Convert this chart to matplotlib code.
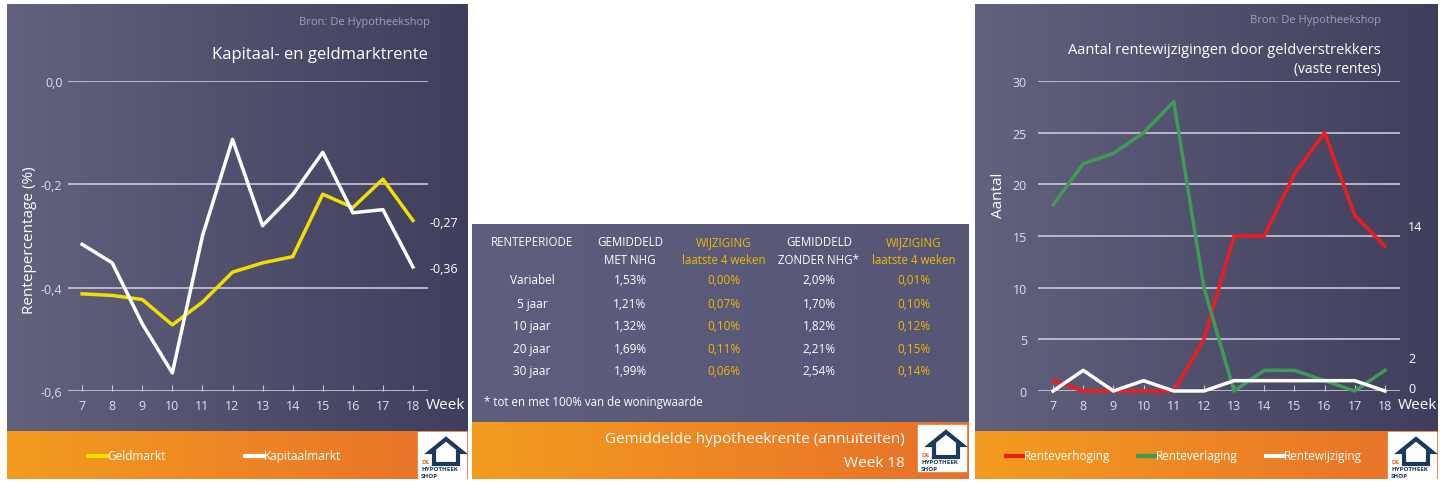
import matplotlib
matplotlib.use("Agg")
import matplotlib.pyplot as plt
import numpy as np
from matplotlib.patches import Rectangle, Polygon

plt.rcParams['font.family'] = ['Open Sans', 'DejaVu Sans']

weeks = [7, 8, 9, 10, 11, 12, 13, 14, 15, 16, 17, 18]
geldmarkt = [-0.412, -0.415, -0.423, -0.472, -0.428, -0.370, -0.352, -0.340, -0.219, -0.245, -0.190, -0.270]
kapitaalmarkt = [-0.316, -0.352, -0.470, -0.565, -0.300, -0.113, -0.280, -0.220, -0.138, -0.255, -0.249, -0.360]
renteverhoging = [1, 0, 0, 0, 0, 5, 15, 15, 21, 25, 17, 14]
renteverlaging = [18, 22, 23, 25, 28, 10, 0, 2, 2, 1, 0, 2]
rentewijziging = [0, 2, 0, 1, 0, 0, 1, 1, 1, 1, 1, 0]

tab_header1 = ["RENTEPERIODE", "GEMIDDELD", "WIJZIGING", "GEMIDDELD", "WIJZIGING"]
tab_header2 = ["", "MET NHG", "laatste 4 weken", "ZONDER NHG*", "laatste 4 weken"]
tab_periods = ["Variabel", "5 jaar", "10 jaar", "20 jaar", "30 jaar"]
tab_met = ["1,53%", "1,21%", "1,32%", "1,69%", "1,99%"]
tab_met_w = ["0,00%", "0,07%", "0,10%", "0,11%", "0,06%"]
tab_zonder = ["2,09%", "1,70%", "1,82%", "2,21%", "2,54%"]
tab_zonder_w = ["0,01%", "0,10%", "0,12%", "0,15%", "0,14%"]

W, H = 1440, 485
fig = plt.figure(figsize=(14.4, 4.85), dpi=100)
fig.patch.set_facecolor('white')

def fa(x0, y0, x1, y1, z=0):
    return fig.add_axes([x0 / W, 1 - y1 / H, (x1 - x0) / W, (y1 - y0) / H], zorder=z)

def grad(ax, c0, c1):
    g = np.linspace(0, 1, 256)[None, :, None]
    c0 = np.array(matplotlib.colors.to_rgb(c0)); c1 = np.array(matplotlib.colors.to_rgb(c1))
    img = c0 * (1 - g) + c1 * g
    ax.imshow(img, aspect='auto', extent=[0, 1, 0, 1])
    ax.set_xlim(0, 1); ax.set_ylim(0, 1); ax.axis('off')

panels = [(7, 5, 468, 480, 432, '#62627f', '#3f3f5d'), (975, 5, 1437, 480, 432, '#62627f', '#3f3f5d'),
          (472, 225, 968, 480, 423, '#5e5e7e', '#555575')]
for (x0, y0, x1, y1, yo, c0, c1) in panels:
    grad(fa(x0, y0, x1, yo), c0, c1)
    grad(fa(x0, yo, x1, y1), '#f39c1f', '#e8702a')

ov = fa(0, 0, W, H, z=5)
ov.set_xlim(0, W); ov.set_ylim(H, 0); ov.axis('off'); ov.patch.set_alpha(0)

def logo(x0, y0):
    ov.add_patch(Rectangle((x0, y0), 48, 46, color='white'))
    ov.add_patch(Polygon([[x0 + 12, y0 + 20], [x0 + 28, y0 + 7], [x0 + 44, y0 + 20],
                          [x0 + 40, y0 + 20], [x0 + 40, y0 + 32], [x0 + 16, y0 + 32], [x0 + 16, y0 + 20]],
                         closed=True, fill=False, ec='#1d3a5c', lw=3))
    ov.text(x0 + 3, y0 + 31, "DE", fontsize=4.5, color='#e8702a', fontweight='bold')
    ov.text(x0 + 3, y0 + 38, "HYPOTHEEK", fontsize=4.5, color='#1d3a5c', fontweight='bold')
    ov.text(x0 + 3, y0 + 45, "SHOP", fontsize=4.5, color='#1d3a5c', fontweight='bold')

logo(418, 433); logo(1388, 433); logo(918, 426)

txt = '#ffffff'
yel = '#f5b800'
# left texts
ov.text(430, 22, "Bron: De Hypotheekshop", fontsize=8, color='#a0a0b8', ha='right', va='center')
ov.text(428, 55, "Kapitaal- en geldmarktrente", fontsize=12, color=txt, ha='right', va='center')
ov.text(30, 240, "Rentepercentage (%)", fontsize=11, color=txt, rotation=90, ha='center', va='center')
ov.text(426, 406, "Week", fontsize=11, color=txt, ha='left', va='center')
ov.text(430, 224, "-0,27", fontsize=9, color=txt, ha='left', va='center')
ov.text(430, 270, "-0,36", fontsize=9, color=txt, ha='left', va='center')
for lx, lab, c in [(88, "Geldmarkt", '#f0e000'), (245, "Kapitaalmarkt", 'white')]:
    ov.plot([lx, lx + 19], [457, 457], color=c, lw=3)
    ov.text(lx + 19, 457, lab, fontsize=8.5, color=txt, va='center')

# right texts
ov.text(1381, 20, "Bron: De Hypotheekshop", fontsize=8, color='#a0a0b8', ha='right', va='center')
ov.text(1381, 50, "Aantal rentewijzigingen door geldverstrekkers", fontsize=10.5, color=txt, ha='right', va='center')
ov.text(1381, 70, "(vaste rentes)", fontsize=10, color=txt, ha='right', va='center')
ov.text(998, 195, "Aantal", fontsize=11, color=txt, rotation=90, ha='center', va='center')
ov.text(1398, 406, "Week", fontsize=11, color=txt, ha='left', va='center')
for yy, lab in [(228, "14"), (360, "2"), (390, "0")]:
    ov.text(1408, yy, lab, fontsize=9, color=txt, ha='left', va='center')
for lx, lab, c in [(1006, "Renteverhoging", '#ee1c1c'), (1138, "Renteverlaging", '#3f9b55'), (1266, "Rentewijziging", 'white')]:
    ov.plot([lx, lx + 18], [457, 457], color=c, lw=3)
    ov.text(lx + 18, 457, lab, fontsize=8.5, color=txt, va='center')

# table
cols = [532, 630, 724, 819, 914]
for i, cx in enumerate(cols):
    c = yel if i in (2, 4) else txt
    ov.text(cx, 243, tab_header1[i], fontsize=8.3, color=c, ha='center', va='center')
    ov.text(cx, 261, tab_header2[i], fontsize=8.3, color=c, ha='center', va='center')
rows_y = [281, 305, 327, 350, 372]
for j, ry in enumerate(rows_y):
    vals = [tab_periods[j], tab_met[j], tab_met_w[j], tab_zonder[j], tab_zonder_w[j]]
    for i, cx in enumerate(cols):
        c = yel if i in (2, 4) else txt
        ov.text(cx, ry, vals[i], fontsize=8.5, color=c, ha='center', va='center')
ov.text(484, 403, "* tot en met 100% van de woningwaarde", fontsize=8.3, color=txt, va='center')
ov.text(905, 440, "Gemiddelde hypotheekrente (annuïteiten)", fontsize=11, color=txt, ha='right', va='center')
ov.text(905, 464, "Week 18", fontsize=11, color=txt, ha='right', va='center')

def style(ax, yt, ylabels):
    ax.patch.set_alpha(0)
    for s in ax.spines.values():
        s.set_visible(False)
    ax.set_yticks(yt); ax.set_yticklabels(ylabels)
    ax.set_xticks(weeks)
    ax.grid(axis='y', color='#c8c8d4', lw=1.2)
    ax.set_axisbelow(True)
    ax.tick_params(colors='#e0e0ea', labelsize=9, length=0, pad=8)
    ax.tick_params(axis='x', length=4, color='#c8c8d4', direction='in', pad=6)

a1 = fa(68, 82, 428, 392, z=3)
a1.set_xlim(6.53, 18.5); a1.set_ylim(-0.6, 0)
style(a1, [-0.6, -0.4, -0.2, 0.0], ["-0,6", "-0,4", "-0,2", "0,0"])
a1.tick_params(axis='y', pad=4)
a1.plot(weeks, geldmarkt, color='#f0e000', lw=2.5, clip_on=False)
a1.plot(weeks, kapitaalmarkt, color='white', lw=2.5, clip_on=False)

a2 = fa(1038, 82, 1400, 392, z=3)
a2.set_xlim(6.5, 18.5); a2.set_ylim(0, 30)
style(a2, [0, 5, 10, 15, 20, 25, 30], ["0", "5", "10", "15", "20", "25", "30"])
a2.plot(weeks, renteverhoging, color='#ee1c1c', lw=2.5, clip_on=False)
a2.plot(weeks, renteverlaging, color='#3f9b55', lw=2.5, clip_on=False)
a2.plot(weeks, rentewijziging, color='white', lw=2.5, clip_on=False)

fig.savefig("out.png", dpi=100)
